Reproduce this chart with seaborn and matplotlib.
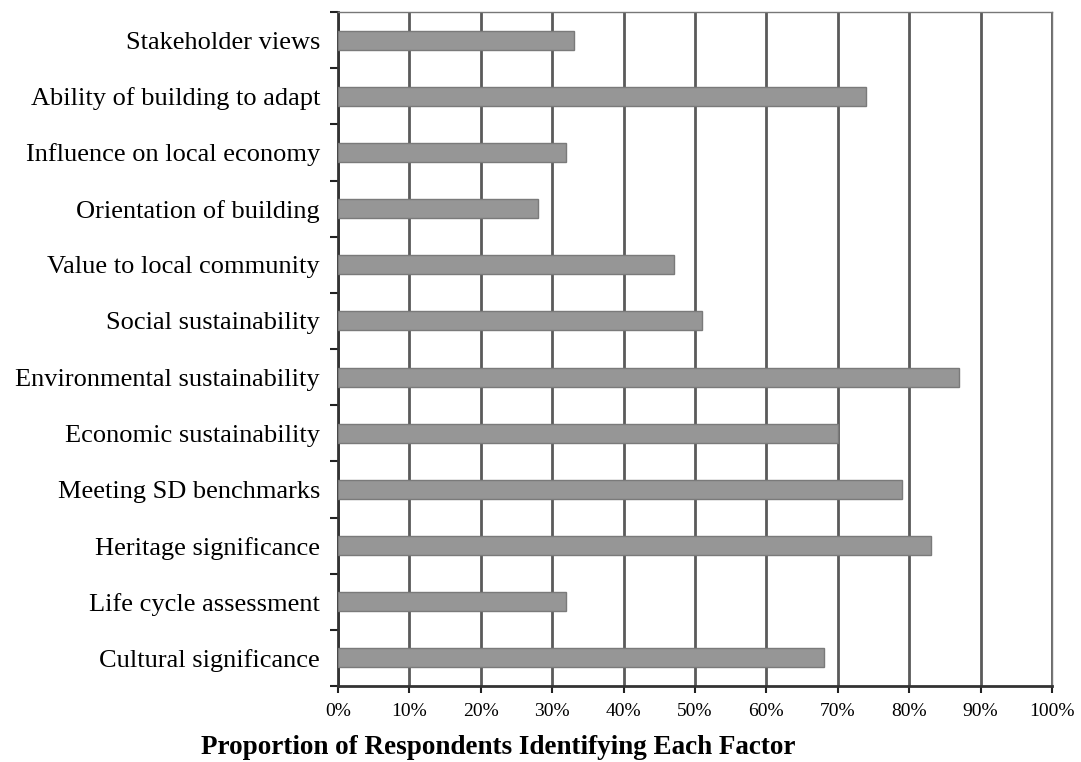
import matplotlib.pyplot as plt
import seaborn as sns
import pandas as pd
import numpy as np

#   Datos
factors = ['Stakeholder views', 'Ability of building to adapt', 'Influence on local economy',
           'Orientation of building', 'Value to local community', 'Social sustainability',
           'Environmental sustainability', 'Economic sustainability', 'Meeting SD benchmarks',
           'Heritage significance', 'Life cycle assessment', 'Cultural significance']
proportion = [33, 74, 32, 28, 47, 51, 87, 70, 79, 83, 32, 68]
x_ticks = list(range(0, 101, 10))
x_tick_labels = [f'{t}%' for t in x_ticks]

df = pd.DataFrame({'Factor': factors, 'Proportion': proportion})

sns.set_style('white')
plt.rcParams['font.family'] = ['Liberation Serif', 'DejaVu Serif']
plt.rcParams['text.color'] = 'black'
plt.rcParams['xtick.labelcolor'] = 'black'
plt.rcParams['ytick.labelcolor'] = 'black'
plt.rcParams['axes.labelcolor'] = 'black'

fig = plt.figure(figsize=(10.81, 7.62), dpi=100)
ax = fig.add_axes([338 / 1081, 1 - 686 / 762, (1052 - 338) / 1081, (686 - 12) / 762])

sns.barplot(data=df, x='Proportion', y='Factor', orient='h', color='#969696',
            width=0.34, edgecolor='#7a7a7a', linewidth=1, saturation=1, ax=ax, zorder=3)

ax.set_xlim(0, 100)
ax.set_ylim(len(factors) - 0.5, -0.5)
ax.set_xticks(x_ticks)
ax.set_xticklabels(x_tick_labels, fontsize=14)

#   Marcas del eje Y entre categorias
ax.set_yticks(np.arange(len(factors)), labels=factors, fontsize=19)
ax.set_yticks(np.arange(len(factors) + 1) - 0.5, minor=True)
ax.tick_params(axis='y', which='major', left=False, length=0, pad=13)
ax.tick_params(axis='y', which='minor', left=True, length=6, width=1.5,
               color='#222222', direction='out')
ax.tick_params(axis='x', which='major', bottom=True, length=5, width=1.5,
               color='#222222', direction='out', pad=7)

ax.grid(True, axis='x', color='#5a5a5a', linewidth=2, zorder=0)
ax.set_axisbelow(True)

for side in ['left', 'bottom']:
    ax.spines[side].set_color('#333333')
    ax.spines[side].set_linewidth(2)
for side in ['top', 'right']:
    ax.spines[side].set_color('#777777')
    ax.spines[side].set_linewidth(1)

ax.set_ylabel('')
ax.set_xlabel('Proportion of Respondents Identifying Each Factor', fontsize=19.5,
              fontweight='bold', color='black')
ax.xaxis.set_label_coords(0.224, -0.072)

fig.savefig('out.png', dpi=100)
